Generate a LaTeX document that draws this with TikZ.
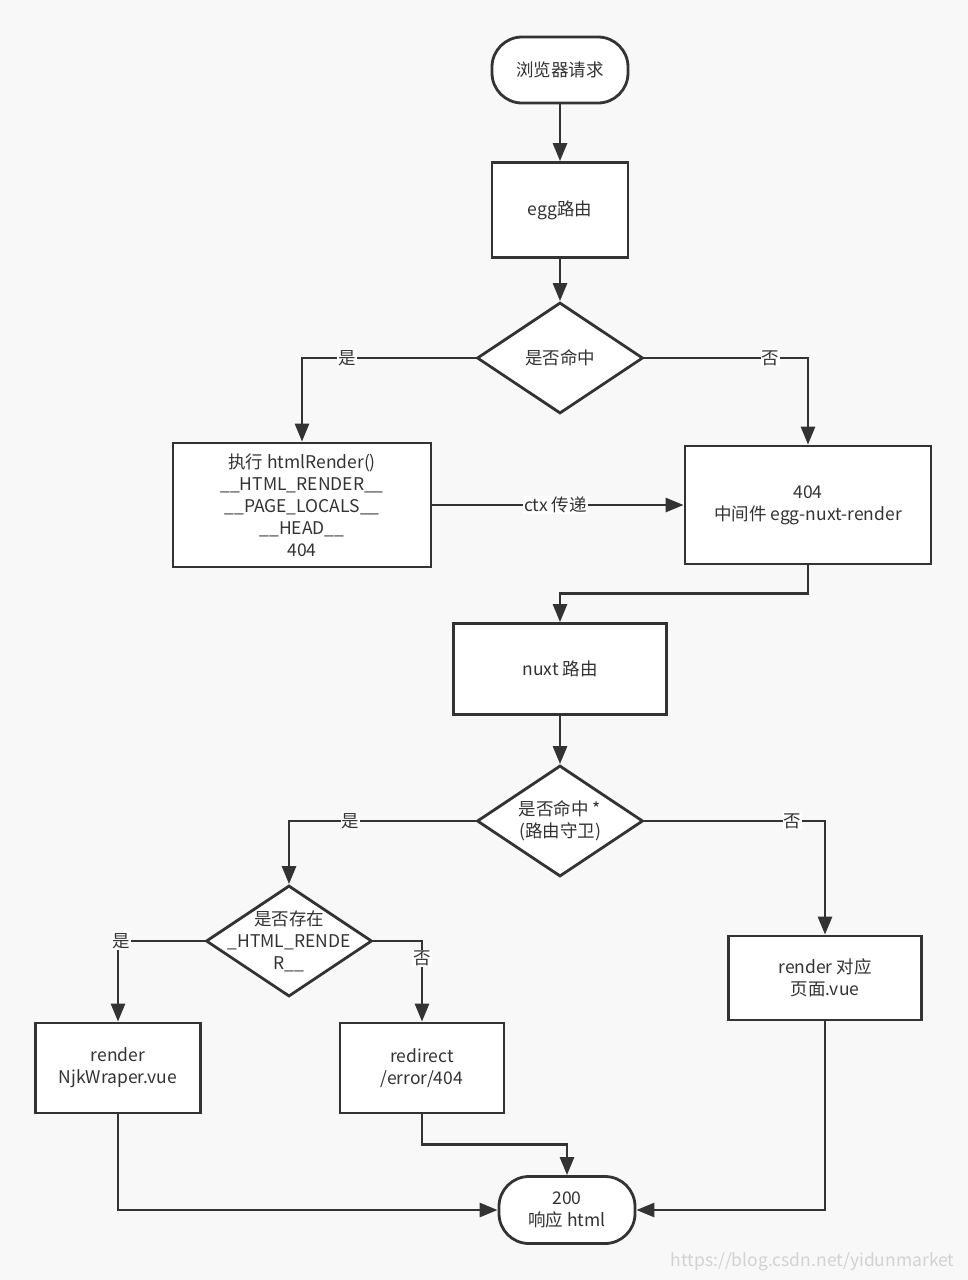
\documentclass[tikz,border=0pt]{standalone}
\usepackage{fontspec}
\setmainfont{Noto Sans CJK SC}
\usetikzlibrary{arrows.meta,shapes.geometric}
\definecolor{bg}{HTML}{F8F8F8}
\definecolor{ln}{HTML}{333333}
\definecolor{wm}{HTML}{D2D2D2}
\begin{document}
\begin{tikzpicture}[x=1pt,y=-1pt,
  every node/.style={font=\fontsize{17.5}{22}\selectfont, text=ln},
  box/.style={draw=ln, line width=2.8pt, fill=white, rectangle, inner sep=0pt, align=center},
  term/.style={box, rounded corners=30pt},
  dia/.style={draw=ln, line width=2.8pt, fill=white, diamond, inner sep=0pt},
  arr/.style={draw=ln, line width=2.8pt, -{Triangle[length=18pt,width=14pt]}},
  lbl/.style={fill=white, inner sep=1pt}]
\fill[bg] (0,0) rectangle (968,1280);
\useasboundingbox (0,0) rectangle (968,1280);

\node[term, minimum width=136pt, minimum height=66pt] (start) at (560,70) {浏览器请求};
\node[box, minimum width=136pt, minimum height=95pt] (egg) at (560,210) {egg路由};
\node[dia, minimum width=166pt, minimum height=111pt] (d1) at (560,358) {};
\node at (d1.center) {是否命中};
\node[box, minimum width=258pt, minimum height=124pt] (exec) at (302,505)
  {执行 htmlRender()\\\_\_HTML\_RENDER\_\_\\\_\_PAGE\_LOCALS\_\_\\\_\_HEAD\_\_\\404};
\node[box, minimum width=246pt, minimum height=118pt] (mid) at (808,505)
  {404\\中间件 egg-nuxt-render};
\node[box, minimum width=213pt, minimum height=91pt] (nuxt) at (560,669) {nuxt 路由};
\node[dia, minimum width=166pt, minimum height=111pt] (d2) at (560,821) {};
\node[align=center] at (d2.center) {是否命中 *\\(路由守卫)};
\node[dia, minimum width=166pt, minimum height=111pt] (d3) at (289,941) {};
\node[align=center] at (d3.center) {是否存在\\\_HTML\_RENDE\\R\_\_};
\node[box, minimum width=165pt, minimum height=90pt] (render) at (118,1068) {render\\NjkWraper.vue};
\node[box, minimum width=164pt, minimum height=90pt] (redir) at (422,1068) {redirect\\/error/404};
\node[box, minimum width=193pt, minimum height=84pt] (rv) at (825,978) {render 对应\\页面.vue};
\node[term, minimum width=136pt, minimum height=67pt] (done) at (567,1210) {200\\响应 html};
\node[text=wm, anchor=east] (wmark) at (958,1262) {https://blog.csdn.net/yidunmarket};

\draw[arr] (start) -- (egg);
\draw[arr] (egg) -- (d1);
\draw[arr] (d1.west) -| node[lbl, pos=0.37] {是} (exec.north);
\draw[arr] (d1.east) -| node[lbl, pos=0.385] {否} (mid.north);
\draw[arr] (exec.east) -- node[lbl, pos=0.49] {ctx 传递} (mid.west);
\draw[arr] (mid.south) -- ++(0,28) -| (nuxt.north);
\draw[arr] (nuxt) -- (d2);
\draw[arr] (d2.west) -| node[lbl, pos=0.335] {是} (d3.north);
\draw[arr] (d2.east) -| node[lbl, pos=0.41] {否} (rv.north);
\draw[arr] (d3.west) -| node[lbl, pos=0.48] {是} (render.north);
\draw[arr] (d3.east) -| node[lbl, pos=0.61] {否} (redir.north);
\draw[arr] (render.south) |- (done.west);
\draw[arr] (redir.south) -- ++(0,30) -| (done.north);
\draw[arr] (rv.south) |- (done.east);
\end{tikzpicture}
\end{document}
